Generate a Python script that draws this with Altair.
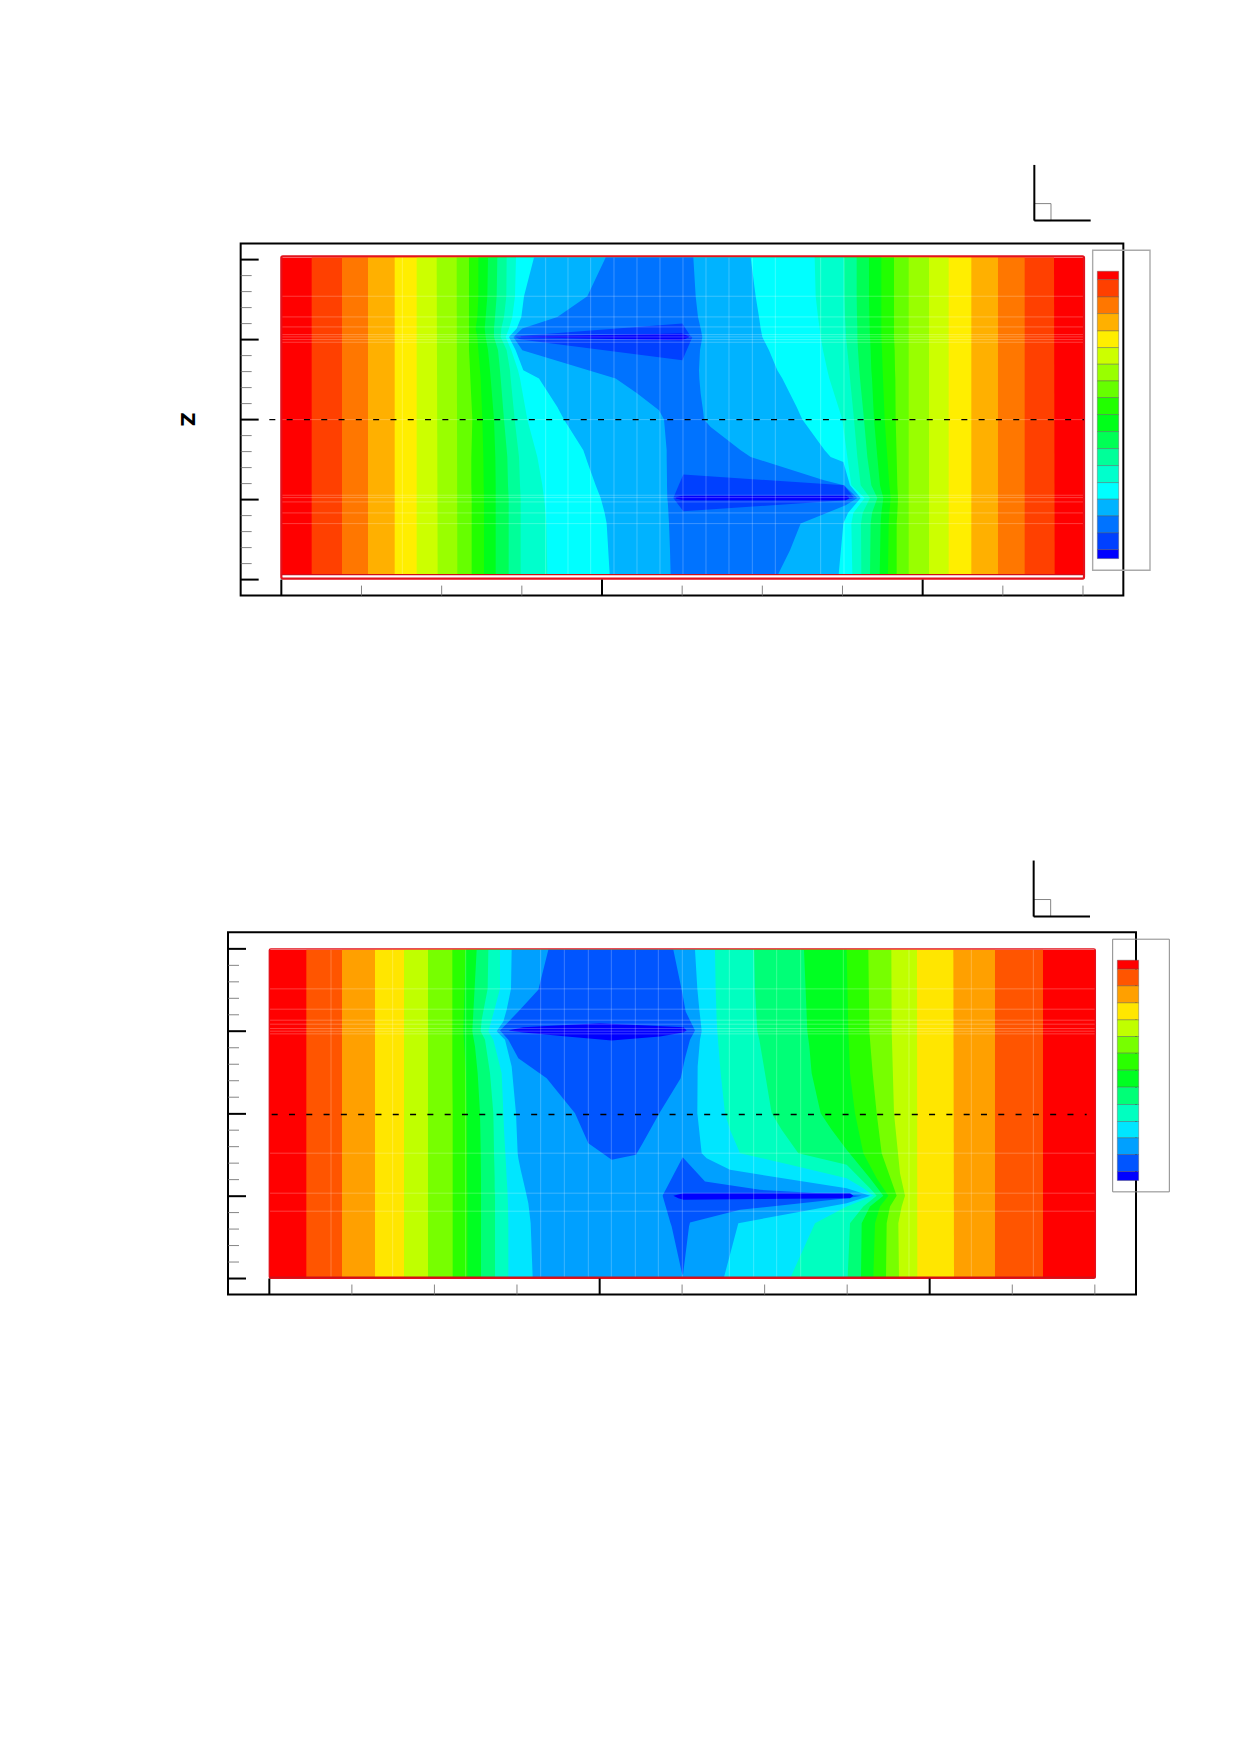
import altair as alt
import pandas as pd

# ---- colour levels -------------------------------------------------
A_COLORS = ["#ff0000", "#ff4000", "#ff7700", "#ffb000", "#ffee00", "#ccff00", "#99ff00", "#66ff00", "#22ff00",
            "#00ff1a", "#00ff55", "#00ff99", "#00ffcc", "#00ffff", "#00b3ff", "#0073ff", "#0040ff", "#0000ff"]
B_COLORS = ["#ff0000", "#ff5500", "#ffa000", "#ffe600", "#c0ff00", "#77ff00", "#2aff00", "#00ff22", "#00ff77",
            "#00ffc0", "#00e6ff", "#00a0ff", "#0055ff", "#0000ff"]

# ---- panel A contour levels: level, rows, left edge, right edge ----
A_OFF = 1500
A_ROWS = [352, 468, 530, 565, 590, 630, 690, 715, 838, 950, 1035, 1073, 1118, 1150, 1303]
A_EDGE = [352, 1303]
A_B1 = (1, A_EDGE, [453, 453], [1180, 1182])
A_B2 = (2, A_EDGE, [544, 544], [1092, 1092])
A_B3 = (3, A_EDGE, [622, 622], [1012, 1012])
A_B4 = (4, A_EDGE, [702, 702], [932, 932])
A_B5 = (5, A_EDGE, [768, 768], [864, 864])
A_B6 = (6, A_EDGE, [828, 831], [805, 805])
A_B7 = (7, A_EDGE, [888, 890], [744, 744])
A_B8 = (8, A_ROWS, [925, 925, 925, 925, 925, 925, 928, 929, 935, 932, 932, 933, 933, 933, 933],
        [700, 700, 700, 700, 700, 702, 703, 704, 705, 708, 710, 712, 710, 708, 708])
A_B9 = (9, A_ROWS, [953, 953, 950, 945, 950, 953, 958, 960, 965, 968, 969, 970, 970, 970, 970],
        [662, 662, 662, 662, 662, 664, 666, 667, 672, 680, 686, 690, 686, 684, 682])
A_B10 = (10, A_ROWS, [982, 980, 975, 972, 975, 982, 988, 990, 1000, 1004, 1005, 1005, 1005, 1005, 1005],
         [625, 625, 626, 627, 628, 630, 632, 634, 640, 650, 658, 668, 662, 660, 657])
A_B11 = (11, A_ROWS, [1010, 1008, 1003, 1000, 1000, 1012, 1018, 1020, 1030, 1040, 1042, 1044, 1044, 1044, 1044],
         [588, 588, 589, 590, 590, 592, 596, 598, 610, 620, 632, 650, 634, 630, 628])
A_B12 = (12, A_ROWS, [1038, 1037, 1030, 1022, 1020, 1038, 1048, 1050, 1062, 1075, 1078, 1080, 1080, 1080, 1080],
         [550, 551, 553, 555, 556, 560, 566, 568, 580, 590, 600, 628, 606, 601, 602])
A_B13 = (13, A_ROWS, [1066, 1063, 1055, 1045, 1035, 1052, 1072, 1078, 1100, 1130, 1145, 1150, 1155, 1157, 1160],
         [462, 465, 472, 477, 480, 487, 500, 506, 545, 560, 572, 612, 578, 572, 575])
A_B14 = (14, [352, 468, 530, 565, 590, 630, 690, 715, 800, 838, 930, 950, 965, 1035, 1073, 1118, 1150, 1303],
         [1120, 1090, 1082, 1068, 1045, 1065, 1088, 1135, 1190, 1210, 1268, 1275, 1280, 1305, 1320, 1332, 1338, 1347],
         [270, 285, 295, 300, 305, 325, 350, 365, 408, 425, 492, 510, 548, 568, 600, 562, 548, 534])
A_B15 = (15, [352, 468, 530, 565, 590, 630, 690, 715, 760, 810, 838, 860, 930, 950, 1020, 1035, 1073, 1095, 1150, 1230, 1303],
         [1335, 1280, 1190, 1085, 1058, 1085, 1283, 1365, 1430, 1495, 1510, 1512, 1518, 1518, 1519, 1519, 1520, 1522, 1525, 1528, 1530],
         [98, 105, 112, 120, 125, 118, 115, 116, 120, 127, 130, 150, 240, 270, 490, 550, 590, 555, 420, 388, 352])
A_L16a = (16, [550, 588, 590, 598, 660], [1565, 1065, 1062, 1080, 1565], [65, 90, 95, 92, 65])
A_L17a = (17, [580, 589, 591, 600], [1565, 1080, 1080, 1565], [65, 85, 85, 65])
A_L16b = (16, [1003, 1035, 1073, 1080, 1113], [1568, 1554, 1538, 1543, 1568], [68, 550, 580, 555, 68])
A_L17b = (17, [1066, 1071, 1075, 1080], [1568, 1545, 1545, 1568], [555, 565, 565, 555])
A_LEVELS = [(0, A_EDGE, [362, 362], [1270, 1270]),
            A_B1, A_B2, A_B3, A_B4, A_B5, A_B6, A_B7, A_B8, A_B9, A_B10, A_B11, A_B12, A_B13, A_B14, A_B15,
            A_L16a, A_L17a, A_L16b, A_L17b]

# ---- panel B contour levels ----------------------------------------
B_OFF = 1470
B_EDGE = [330, 1312]
B_B1 = (1, B_EDGE, [289, 289], [1029, 1029])
B_B2 = (2, B_EDGE, [396, 396], [885, 885])
B_B3 = (3, B_EDGE, [495, 495], [760, 762])
B_B4 = (4, B_EDGE, [582, 582], [651, 652])
B_B5 = (5, [330, 570, 820, 1000, 1068, 1100, 1150, 1312], [654, 654, 654, 654, 654, 654, 654, 654],
        [574, 575, 582, 600, 615, 605, 595, 597])
B_B6 = (6, [330, 574, 700, 820, 940, 1068, 1100, 1150, 1312], [727, 727, 727, 728, 728, 728, 728, 728, 728],
        [505, 508, 518, 530, 545, 590, 570, 560, 558])
B_B7 = (7, [330, 574, 700, 820, 940, 1015, 1068, 1100, 1150, 1312], [767, 760, 768, 770, 771, 771, 772, 772, 772, 772],
        [440, 445, 450, 465, 490, 530, 565, 540, 525, 520])
B_B8 = (8, [330, 574, 620, 700, 820, 870, 930, 1015, 1068, 1100, 1150, 1312],
        [800, 787, 795, 803, 810, 811, 812, 813, 813, 813, 813, 813],
        [312, 322, 328, 335, 362, 395, 440, 510, 550, 510, 485, 483])
B_ROWS9 = [330, 447, 540, 574, 600, 700, 820, 870, 940, 975, 1015, 1045, 1068, 1100, 1150, 1312]
B_B9 = (9, B_ROWS9, [835, 833, 815, 812, 825, 840, 850, 851, 852, 853, 854, 854, 855, 855, 855, 855],
        [162, 165, 170, 172, 178, 195, 215, 245, 295, 440, 480, 510, 530, 490, 450, 443])
B_B10 = (10, B_ROWS9, [870, 870, 845, 835, 850, 875, 880, 882, 886, 888, 890, 892, 893, 894, 895, 895],
         [45, 47, 50, 52, 54, 62, 75, 90, 120, 270, 440, 490, 520, 440, 345, 272])
B_B11 = (11, [330, 447, 510, 545, 574, 600, 680, 820, 940, 955, 990, 1045, 1068, 1090, 1150, 1312],
         [905, 903, 890, 880, 860, 885, 905, 918, 923, 925, 932, 945, 950, 955, 962, 968],
         [-15, -8, -2, 2, 5, 0, -7, -8, 5, 20, 90, 440, 510, 440, 115, 72])
B_L12a = (12, [330, 450, 515, 572, 600, 655, 715, 820, 910, 945, 960],
          [1015, 985, 925, 870, 895, 925, 1010, 1095, 1135, 1184, 1205],
          [-80, -55, -43, -15, -30, -45, -58, -122, -172, -192, -265])
B_L13a = (13, [550, 562, 572, 578, 590, 602], [1170, 940, 895, 940, 1070, 1205], [-300, -50, -40, -50, -120, -265])
B_L12b = (12, [952, 1025, 1050, 1065, 1068, 1075, 1110, 1148, 1160, 1305],
          [1418, 1380, 1367, 1359, 1358, 1360, 1370, 1381, 1385, 1417],
          [-52, 15, 180, 440, 485, 440, 120, -30, -33, -51])
B_L13b = (13, [1060, 1068, 1075, 1080], [1420, 1390, 1405, 1420], [450, 460, 450, -50])
B_LEVELS = [(0, B_EDGE, [178, 178], [1186, 1186]),
            B_B1, B_B2, B_B3, B_B4, B_B5, B_B6, B_B7, B_B8, B_B9, B_B10, B_B11, B_L12a, B_L13a, B_L12b, B_L13b]

# ---- colour-key band edges ----------------------------------------
A_KEY = [393, 418, 470, 520, 572, 622, 672, 722, 772, 823, 874, 925, 976, 1027, 1077, 1127, 1178, 1228, 1255]
B_KEY = [361, 388, 438, 489, 540, 590, 640, 691, 742, 794, 845, 894, 944, 995, 1022]

# ---- mesh lines ---------------------------------------------------
A_MESH_ROWS = [468, 530, 560, 583, 590, 598, 606, 838, 1065, 1072, 1085, 1118, 1150]
A_MESH_COLS = [725, 1155, 1222, 1290, 1360, 1429, 1498, 1567, 1636, 1705, 1775, 1844, 1980, 2050]
B_MESH_ROWS = [447, 508, 541, 553, 566, 574, 582, 940, 1060, 1114]
B_MESH_COLS = [363, 548, 767, 992, 1063, 1135, 1204, 1276, 1345, 1417, 1558, 1631, 1700, 1772, 1900, 2097, 2284, 2470]


def panel(cfg):
    xs = alt.Scale(domain=cfg["xd"], nice=False, zero=False)
    ys = alt.Scale(domain=cfg["yd"], nice=False, zero=False)
    x = lambda f="x": alt.X(f"{f}:Q", scale=xs, axis=None)
    y = lambda f="y": alt.Y(f"{f}:Q", scale=ys, axis=None)
    left, right = cfg["plot_x"]
    top, bot = cfg["plot_y"]
    cols = cfg["colors"]
    off = cfg["off"]

    layers = []
    # grid through the whole frame
    grid = alt.Chart(pd.DataFrame({"x": [left], "y": [top]})).mark_point(opacity=0).encode(
        x=alt.X("x:Q", scale=xs, axis=alt.Axis(values=cfg["xmaj"], grid=True, gridColor="#666", gridWidth=0.8,
                                               labels=False, ticks=False, domain=False, title=None)),
        y=alt.Y("y:Q", scale=ys, axis=alt.Axis(values=cfg["ymaj"], grid=True, gridColor="#666", gridWidth=0.8,
                                               labels=False, ticks=False, domain=False, title=None)),
    )
    layers.append(grid)

    # contour levels, painted low-to-high
    for lev, rows, lefts, rights in cfg["levels"]:
        d = pd.DataFrame({"y": rows, "xl": lefts, "xr": [v + off if v < 1300 else v for v in rights]})
        layers.append(alt.Chart(d).mark_area(orient="horizontal", interpolate="linear").encode(
            y=y(), x=alt.X("xl:Q", scale=xs, axis=None), x2="xr:Q", color=alt.value(cols[lev])))

    # mesh
    mh = pd.DataFrame({"y": cfg["mrows"], "x": left, "x2": right})
    mv = pd.DataFrame({"x": cfg["mcols"], "y": cfg["ctop"], "y2": cfg["cbot"]})
    layers.append(alt.Chart(mh).mark_rule(color="white", opacity=0.3, strokeWidth=0.8).encode(y=y(), x=x(), x2="x2:Q"))
    layers.append(alt.Chart(mv).mark_rule(color="white", opacity=0.3, strokeWidth=0.8).encode(x=x(), y=y(), y2="y2:Q"))

    # red outline
    layers.append(alt.Chart(pd.DataFrame({"x": [left], "x2": [right], "y": [top], "y2": [bot]}))
                  .mark_rect(fillOpacity=0, stroke="#e2121c", strokeWidth=cfg["redw"], cornerRadius=1.5)
                  .encode(x=x(), x2="x2:Q", y=y(), y2="y2:Q"))
    layers.append(alt.Chart(pd.DataFrame({"x": [left], "x2": [right], "y": [cfg["cbot"]]}))
                  .mark_rule(color="#d01018", strokeWidth=1.4).encode(x=x(), x2="x2:Q", y=y()))

    # ticks
    fx0, fx1 = cfg["xd"]
    fy0, fy1 = cfg["yd"]  # bottom, top
    majx = pd.DataFrame({"x": cfg["xmaj"], "y": fy0, "y2": fy0 - 48})
    minx = pd.DataFrame({"x": cfg["xmin"], "y": fy0, "y2": fy0 - 30})
    majy = pd.DataFrame({"y": cfg["ymaj"], "x": fx0, "x2": fx0 + 54})
    miny = pd.DataFrame({"y": cfg["ymin"], "x": fx0, "x2": fx0 + 33})
    layers.append(alt.Chart(minx).mark_rule(color="#777", strokeWidth=0.9).encode(x=x(), y=y(), y2="y2:Q"))
    layers.append(alt.Chart(miny).mark_rule(color="#666", strokeWidth=0.8).encode(y=y(), x=x(), x2="x2:Q"))
    layers.append(alt.Chart(majx).mark_rule(color="black", strokeWidth=2).encode(x=x(), y=y(), y2="y2:Q"))
    layers.append(alt.Chart(majy).mark_rule(color="black", strokeWidth=2).encode(y=y(), x=x(), x2="x2:Q"))

    # dashed cut line
    layers.append(alt.Chart(pd.DataFrame({"y": [cfg["dash"][0]], "x": [cfg["dash"][1]], "x2": [cfg["dash"][2]]}))
                  .mark_rule(color="black", strokeWidth=1.4, strokeDash=[6, 11.3]).encode(y=y(), x=x(), x2="x2:Q"))

    # colour key
    kx0, kx1 = cfg["key_x"]
    kb = cfg["key"]
    kd = pd.DataFrame({"y": kb[:-1], "y2": kb[1:], "x": kx0, "x2": kx1, "c": cols})
    bx0, bx1, by0, by1 = cfg["box"]
    layers.append(alt.Chart(pd.DataFrame({"x": [bx0], "x2": [bx1], "y": [by0], "y2": [by1]}))
                  .mark_rect(fillOpacity=0, stroke=cfg["boxc"], strokeWidth=cfg["boxw"]).encode(x=x(), x2="x2:Q", y=y(), y2="y2:Q"))
    layers.append(alt.Chart(kd).mark_rect(stroke="#555", strokeWidth=0.4).encode(
        x=x(), x2="x2:Q", y=y(), y2="y2:Q", color=alt.Color("c:N", scale=None)))

    # axis triad
    t0, t1, ts, ty0, ty1, tys = cfg["triad"]
    layers.append(alt.Chart(pd.DataFrame({"x": [t0], "x2": [ts], "y": [ty0], "y2": [tys]}))
                  .mark_rect(fillOpacity=0, stroke="#777", strokeWidth=0.9).encode(x=x(), x2="x2:Q", y=y(), y2="y2:Q"))
    layers.append(alt.Chart(pd.DataFrame({"x": [t0], "y": [ty0], "y2": [ty1]}))
                  .mark_rule(color="black", strokeWidth=2).encode(x=x(), y=y(), y2="y2:Q"))
    layers.append(alt.Chart(pd.DataFrame({"y": [ty0], "x": [t0], "x2": [t1]}))
                  .mark_rule(color="black", strokeWidth=2).encode(y=y(), x=x(), x2="x2:Q"))
    if cfg.get("label"):
        lx, ly, txt = cfg["label"]
        layers.append(alt.Chart(pd.DataFrame({"x": [lx], "y": [ly], "t": [txt]}))
                      .mark_text(font="DejaVu Sans", fontWeight="bold", fontSize=19, angle=90, color="black")
                      .encode(x=x(), y=y(), text="t:N"))
    return alt.layer(*layers).properties(width=cfg["w"], height=cfg["h"])


A_STEP = 240.5
A_XMIN = [362 + A_STEP * k for k in range(11) if k % 4]
B_STEP = 247.65
B_XMIN = [178 + B_STEP * k for k in range(11) if k % 4]

chart_a = panel(dict(
    xd=[240, 2888], yd=[1366, 310], w=882.67, h=352, off=A_OFF, colors=A_COLORS, levels=A_LEVELS,
    plot_x=(362, 2770), plot_y=(348, 1315), ctop=352, cbot=1303, redw=2.2,
    xmaj=[362, 1324, 2286], xmin=A_XMIN,
    ymaj=[358, 598, 838, 1078, 1318], ymin=[v for v in range(358, 1318, 48) if (v - 358) % 240],
    mrows=A_MESH_ROWS, mcols=A_MESH_COLS, dash=(838, 326, 2770),
    key=A_KEY, key_x=(2810, 2874),
    box=(2796, 2968, 330, 1290), boxc="#aaaaaa", boxw=1.4,
    triad=(2621, 2790, 2671, 241, 74, 190), label=(80, 837, "Z"),
))
chart_b = panel(dict(
    xd=[54, 2778], yd=[1364, 277], w=908, h=362.33, off=B_OFF, colors=B_COLORS, levels=B_LEVELS,
    plot_x=(178, 2656), plot_y=(327, 1315), ctop=329, cbot=1312, redw=1.4,
    xmaj=[178, 1169, 2159], xmin=B_XMIN,
    ymaj=[327, 574, 822, 1069, 1316], ymin=[327 + 49.45 * k for k in range(21) if k % 5],
    mrows=B_MESH_ROWS, mcols=B_MESH_COLS, dash=(824, 185, 2630),
    key=B_KEY, key_x=(2722, 2786),
    box=(2708, 2878, 298, 1056), boxc="#888888", boxw=1.0,
    triad=(2471, 2640, 2522, 230, 62, 179),
))

chart = alt.vconcat(chart_a, chart_b, spacing=336.6, center=True, bounds="flush",
                    padding={"left": 168, "top": 154.6, "right": 10, "bottom": 20}
                    ).configure_view(stroke="black", strokeWidth=2)
chart.save("out.html", embed_options={"renderer": "svg", "actions": False})
